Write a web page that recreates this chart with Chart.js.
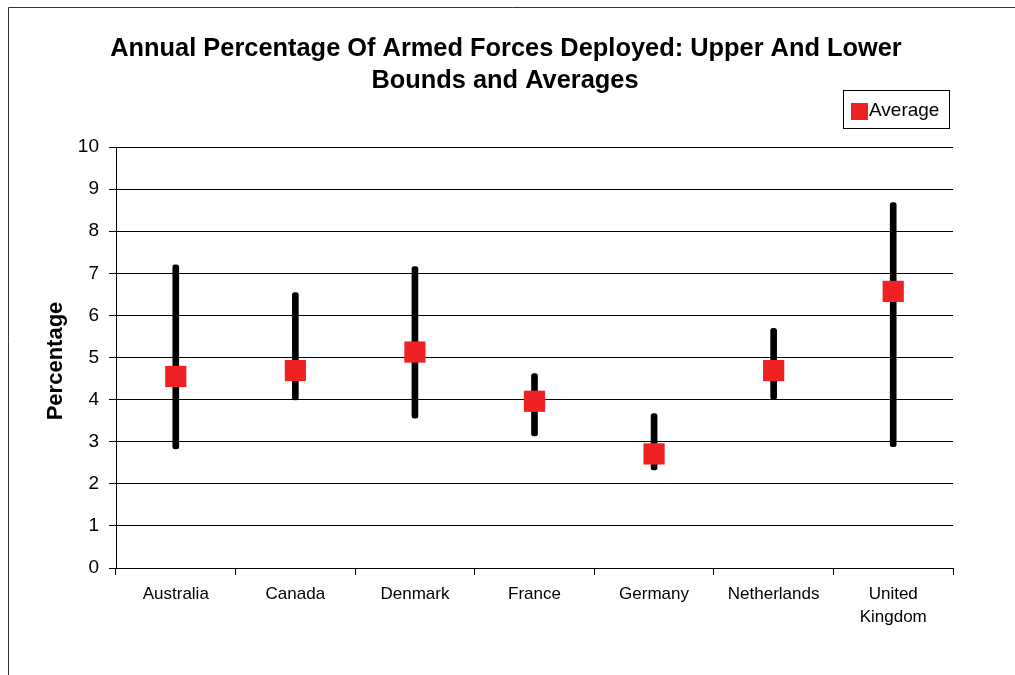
<!DOCTYPE html>
<html>
<head>
<meta charset="utf-8">
<script src="https://cdn.jsdelivr.net/npm/chart.js@4.4.1/dist/chart.umd.min.js"></script>
<style>
  html, body { margin: 0; padding: 0; background: #fff; }
  #wrap { position: relative; width: 1015px; height: 675px; }
  canvas { display: block; }
</style>
</head>
<body>
<div id="wrap"><canvas id="chart" width="1015" height="675"></canvas></div>
<script>
// Countries on the category axis
const categories = ['Australia', 'Canada', 'Denmark', 'France', 'Germany', 'Netherlands', ['United', 'Kingdom']];
// Lower and upper bounds of the annual percentage deployed
const lowerBounds = [2.83, 3.99, 3.56, 3.14, 2.33, 4.01, 2.88];
const upperBounds = [7.20, 6.54, 7.16, 4.62, 3.67, 5.69, 8.68];
// Average annual percentage deployed
const averages = [4.55, 4.69, 5.13, 3.96, 2.71, 4.69, 6.57];
// Y axis ticks
const yTicks = [0, 1, 2, 3, 4, 5, 6, 7, 8, 9, 10];

const titleLines = ['Annual Percentage Of Armed Forces Deployed: Upper And Lower', 'Bounds and Averages'];
const yTitle = 'Percentage';
const legendLabel = 'Average';

const RED = '#ee2225';
const FONT = '"Liberation Sans", Arial, sans-serif';

const ranges = lowerBounds.map((lo, i) => [lo, upperBounds[i]]);

// Frame, title, y-axis title and legend box
const decorations = {
  id: 'decorations',
  beforeDraw(chart) {
    const ctx = chart.ctx;
    ctx.save();
    ctx.fillStyle = '#fff';
    ctx.fillRect(0, 0, chart.width, chart.height);
    ctx.strokeStyle = '#333';
    ctx.lineWidth = 1;
    ctx.beginPath();
    ctx.moveTo(8.5, chart.height + 2);
    ctx.lineTo(8.5, 7.5);
    ctx.lineTo(chart.width + 2, 7.5);
    ctx.stroke();
    ctx.restore();
  },
  afterDraw(chart) {
    const ctx = chart.ctx;
    ctx.save();
    ctx.fillStyle = '#000';
    ctx.textAlign = 'center';
    ctx.textBaseline = 'alphabetic';
    ctx.font = 'bold 25.4px ' + FONT;
    ctx.fillText(titleLines[0], 506, 56);
    ctx.fillText(titleLines[1], 505, 88);

    ctx.save();
    ctx.translate(62, 361);
    ctx.rotate(-Math.PI / 2);
    ctx.font = 'bold 22px ' + FONT;
    ctx.textBaseline = 'alphabetic';
    ctx.fillText(yTitle, 0, 0);
    ctx.restore();

    // legend
    ctx.strokeStyle = '#000';
    ctx.lineWidth = 1;
    ctx.strokeRect(843.5, 90.5, 106, 38);
    ctx.fillStyle = RED;
    ctx.fillRect(851, 103, 17, 17);
    ctx.fillStyle = '#000';
    ctx.textAlign = 'left';
    ctx.font = '19px ' + FONT;
    ctx.fillText(legendLabel, 869, 116);
    ctx.restore();
  }
};

new Chart(document.getElementById('chart'), {
  type: 'bar',
  data: {
    labels: categories,
    datasets: [
      {
        type: 'line',
        label: legendLabel,
        data: averages,
        showLine: false,
        pointStyle: 'rect',
        pointRadius: 15,
        pointHoverRadius: 15,
        pointBackgroundColor: RED,
        pointBorderWidth: 0,
        borderColor: RED,
        order: 0
      },
      {
        label: 'Range',
        data: ranges,
        backgroundColor: '#000',
        barThickness: 6,
        borderRadius: 2.5,
        borderSkipped: false,
        order: 1
      }
    ]
  },
  options: {
    responsive: false,
    animation: false,
    devicePixelRatio: 1,
    layout: { padding: { left: 0, right: 62, top: 147, bottom: 47 } },
    plugins: {
      legend: { display: false },
      title: { display: false },
      tooltip: { enabled: false }
    },
    scales: {
      x: {
        offset: true,
        afterFit(scale) { scale.height = 60; },
        grid: {
          offset: true,
          drawOnChartArea: false,
          drawTicks: true,
          tickLength: 7,
          color: '#000',
          lineWidth: 1
        },
        border: { display: true, color: '#000', width: 1 },
        ticks: {
          color: '#000',
          font: { family: FONT, size: 17, lineHeight: 1.4 },
          padding: 7,
          maxRotation: 0,
          autoSkip: false
        }
      },
      y: {
        min: 0,
        max: 10,
        afterFit(scale) { scale.width = 116; },
        afterBuildTicks(scale) { scale.ticks = yTicks.map(v => ({ value: v })); },
        grid: {
          color: '#000',
          lineWidth: 1,
          drawTicks: true,
          tickLength: 7
        },
        border: { display: true, color: '#000', width: 1 },
        ticks: {
          color: '#000',
          font: { family: FONT, size: 19 },
          padding: 10
        }
      }
    }
  },
  plugins: [decorations]
});
</script>
</body>
</html>
